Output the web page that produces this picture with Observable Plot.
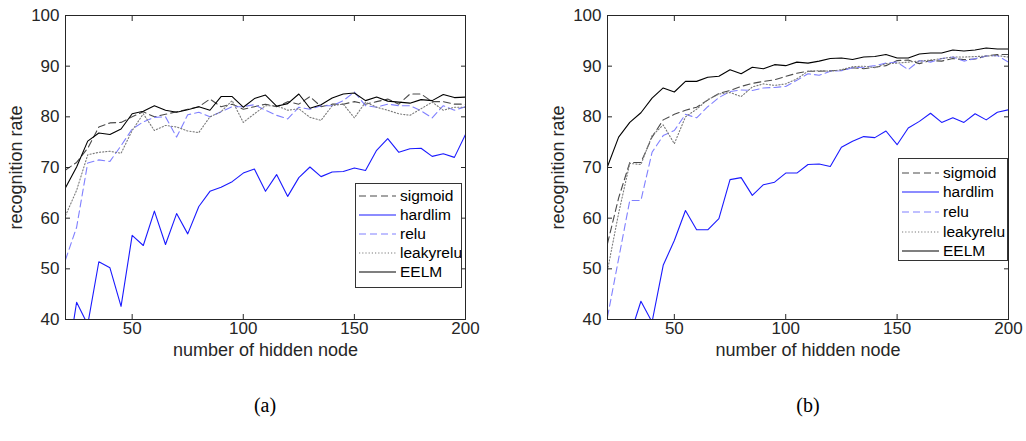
<!DOCTYPE html>
<html><head><meta charset="utf-8">
<script src="https://cdn.jsdelivr.net/npm/d3@7"></script>
<script src="https://cdn.jsdelivr.net/npm/@observablehq/plot@0.6"></script>
<style>
body{margin:0;background:#fff;width:1026px;height:441px;position:relative;overflow:hidden;font-family:"Liberation Sans",Arial,sans-serif;}
.panel{position:absolute;top:0;}
.cap{position:absolute;font-family:"Liberation Serif",serif;font-size:20px;color:#000;transform:translateX(-50%);line-height:20px;}
.legend{position:absolute;background:#fff;border:1px solid #333;box-sizing:border-box;font-size:15.5px;color:#000;}
.legend .row{position:absolute;left:0;height:18px;margin-top:-9px;display:flex;align-items:center;white-space:nowrap;}
.legend svg{display:block;}
</style></head><body>
<div id="a" class="panel" style="left:0"></div>
<div id="b" class="panel" style="left:513px"></div>
<div class="cap" style="left:265px;top:395px">(a)</div>
<div class="cap" style="left:808px;top:395px">(b)</div>
<script>
const nodes = [20,25,30,35,40,45,50,55,60,65,70,75,80,85,90,95,100,105,110,115,120,125,130,135,140,145,150,155,160,165,170,175,180,185,190,195,200];
const xTicks = [50,100,150,200];
const yTicks = [40,50,60,70,80,90,100];
const seriesNames = ["sigmoid","hardlim","relu","leakyrelu","EELM"];

// panel (a)
const sigmoidA = [69.5,71,73.8,78,78.8,78.9,80,81,80,80.5,81,81.5,82,83.5,82,82.5,81.5,82,82.5,82,83,82.5,84,82,82.5,82.5,83,82.5,83,83.5,82.5,84.5,84.5,83,83,82.5,82.5];
const hardlimA = [29.5,43.4,39,51.4,50.2,42.6,56.6,54.6,61.4,54.8,60.9,56.9,62.3,65.3,66.1,67.2,68.9,69.7,65.3,68.6,64.3,68,70.1,68.2,69.1,69.2,69.9,69.4,73.4,75.7,73,73.7,73.8,72.2,72.7,72,76.5];
const reluA = [51.8,58.2,70.9,71.5,71.2,74.3,77.6,79,79.9,80,76,80.4,80.9,80,81,82,82,82.4,81.3,80.3,79.6,81.9,81.5,82.2,82.2,83.2,84.9,82.2,81.9,82.5,82.2,82.2,81.2,79.8,82.2,81.3,82];
const leakyreluA = [60.5,65.5,72.5,73,73.2,72.8,77.3,80.6,77.3,78.3,78,77.2,76.9,80,81,83.2,78.9,80.6,82.2,82.2,81.3,81.6,79.9,79.3,82.2,82.5,79.8,82.9,81.9,81.3,80.6,80.3,81.6,82.9,81.3,81.9,81.9];
const eelmA = [66,70.1,75.2,76.8,76.5,77.6,80.6,81.1,82.2,81.3,80.9,81.4,82,81.3,84,84,81.9,83.6,84.3,82.1,82.6,84.5,81.7,82.4,83.7,84.5,84.7,83.2,83.9,83.1,82.9,82.7,83.4,83.2,84.4,83.8,83.9];

// panel (b)
const sigmoidB = [55,64,71,71,76,79.4,80.5,81.3,81.9,83.3,84.6,85.2,86,86.6,87,87.3,88,88.6,89,89,89.1,89.2,89.7,89.5,89.8,90.1,91.1,91.2,90.5,91.1,91,91.5,91.3,91.4,92,92.3,92.3];
const hardlimB = [37,36,36.7,43.6,39.5,50.7,55.6,61.5,57.7,57.7,59.9,67.6,68,64.5,66.6,67.1,68.9,68.9,70.6,70.7,70.2,74,75.2,76.1,75.9,77.2,74.5,77.8,79.1,80.7,78.9,79.8,78.9,80.6,79.4,80.9,81.4];
const reluB = [40.5,52,63.5,63.5,73,76.3,77.3,80.5,79.8,82,83.8,85,85.3,85.2,85.7,85.8,86,87.2,88.5,88.2,89,89.1,89.7,89.8,90.1,90.6,90.8,89.3,91.1,90.8,91.5,91.8,91,91.5,92,92.1,90.8];
const leakyreluB = [49.7,61,70.8,70.6,76.3,78.4,74.7,80,81.5,83.4,84.5,84.8,84,85.9,86.5,86.2,86.5,87.5,89,89.1,89,89.3,89.9,90,89.7,90.5,90.6,90.8,91,91.2,91.5,91.8,91.8,91.9,92,92.1,91.8];
const eelmB = [70.2,76,78.9,80.8,83.7,85.7,84.9,87,87,87.8,88,89.3,88.5,89.8,89.5,90.3,90.1,90.8,90.6,91,91.5,91.6,91.3,91.8,91.9,92.3,91.6,91.6,92.4,92.6,92.6,93.2,93,93.2,93.6,93.4,93.4];

const styles = {
  sigmoid:   {stroke:"#4a4a4a", dash:"7,4"},
  hardlim:   {stroke:"#1a1aff", dash:null},
  relu:      {stroke:"#8080ff", dash:"7,4"},
  leakyrelu: {stroke:"#7a7a7a", dash:"1.2,2"},
  EELM:      {stroke:"#000000", dash:null}
};
const axisColor = "#262626";

function panel(vals, ml, mr) {
  const lines = seriesNames.map((s, k) => Plot.line(nodes.map((x, i) => ({x, y: vals[k][i]})), {
    x: "x", y: "y", stroke: styles[s].stroke, strokeWidth: 1.1,
    strokeDasharray: styles[s].dash, clip: true
  }));
  return Plot.plot({
    width: 513, height: 370,
    marginLeft: ml, marginRight: mr, marginTop: 15, marginBottom: 51,
    x: {domain: [20, 200]},
    y: {domain: [40, 100]},
    style: {fontFamily: "'Liberation Sans', Arial, sans-serif", fontSize: "17px", color: axisColor, background: "transparent", overflow: "visible"},
    marks: [
      ...lines,
      Plot.frame({stroke: axisColor, strokeWidth: 1}),
      Plot.axisX({anchor: "bottom", ticks: xTicks, tickSize: -5, tickPadding: 7, stroke: axisColor, fontSize: 17, label: null}),
      Plot.axisX({anchor: "bottom", ticks: [], label: "number of hidden node", labelAnchor: "center", labelArrow: "none", labelOffset: 36, fontSize: 18}),
      Plot.axisX({anchor: "top", ticks: xTicks, tickSize: -5, tickFormat: () => "", label: null, stroke: axisColor}),
      Plot.axisY({anchor: "left", ticks: yTicks, tickSize: -5, tickPadding: 11, stroke: axisColor, fontSize: 17, label: null}),
      Plot.axisY({anchor: "left", ticks: [], label: "recognition rate", labelAnchor: "center", labelArrow: "none", labelOffset: 56, fontSize: 18}),
      Plot.axisY({anchor: "right", ticks: yTicks, tickSize: -5, tickFormat: () => "", label: null, stroke: axisColor})
    ]
  });
}

document.getElementById("a").append(panel([sigmoidA, hardlimA, reluA, leakyreluA, eelmA], 65, 48));
document.getElementById("b").append(panel([sigmoidB, hardlimB, reluB, leakyreluB, eelmB], 94, 18));

function legend(left, top, w, h, firstRow, step, lx0, lx1, tx) {
  const box = document.createElement("div");
  box.className = "legend";
  Object.assign(box.style, {left: left + "px", top: top + "px", width: w + "px", height: h + "px"});
  seriesNames.forEach((s, i) => {
    const row = document.createElement("div");
    row.className = "row";
    row.style.top = (firstRow + i * step) + "px";
    const svg = d3.create("svg").attr("width", tx).attr("height", 18);
    svg.append("line").attr("x1", lx0).attr("x2", lx1).attr("y1", 9).attr("y2", 9)
      .attr("stroke", styles[s].stroke).attr("stroke-width", 1.1)
      .attr("stroke-dasharray", styles[s].dash);
    row.append(svg.node());
    const t = document.createElement("span");
    t.textContent = s;
    row.append(t);
    box.append(row);
  });
  document.body.append(box);
}
legend(355, 183, 107, 105, 12, 19.1, 3, 40, 44);
legend(898, 158, 110, 103, 13.5, 19.7, 3, 40, 44);
</script>
</body></html>
